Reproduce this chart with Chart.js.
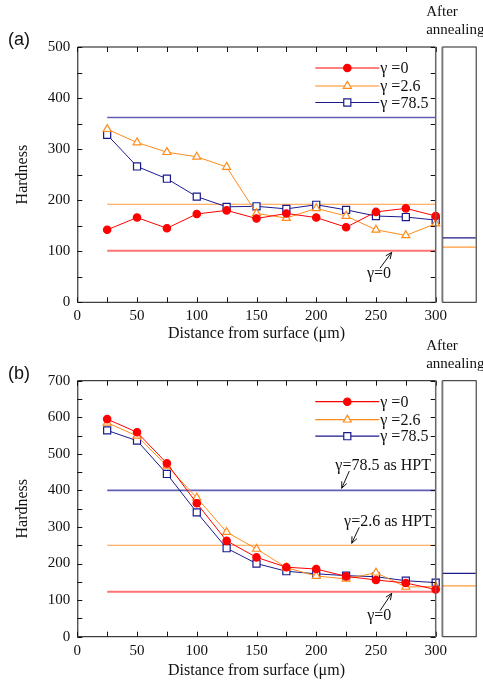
<!DOCTYPE html>
<html>
<head>
<meta charset="utf-8">
<script src="https://cdn.jsdelivr.net/npm/chart.js@4.4.1/dist/chart.umd.min.js"></script>
<style>
html, body { margin: 0; padding: 0; background: #fff; }
#wrap { position: relative; width: 483px; height: 684px; }
canvas { position: absolute; left: 0; }
</style>
</head>
<body>
<div id="wrap">
  <canvas id="chartA" width="483" height="342" style="top:0"></canvas>
  <canvas id="chartB" width="483" height="354" style="top:330px"></canvas>
</div>
<script>
// distance from surface (um)
const distance = [25, 50, 75, 100, 125, 150, 175, 200, 225, 250, 275, 300];
const seriesLabels = ['\u03b3 =0', '\u03b3 =2.6', '\u03b3 =78.5'];

// panel (a)
const hardA_g0   = [142, 166, 145, 173, 180, 164, 174, 166, 147, 177, 184, 169];
const hardA_g26  = [339, 313, 294, 285, 265, 174, 165, 184, 169, 142, 131, 154];
const hardA_g785 = [328, 266, 242, 207, 187, 188, 183, 191, 181, 169, 167, 161];
const refA  = [101, 192, 362];     // as-HPT levels (g0, g2.6, g78.5)
const sideA = [null, 108, 126];    // after annealing

// panel (b)
const hardB_g0   = [595, 559, 474, 365, 262, 217, 190, 185, 165, 155, 147, 129];
const hardB_g26  = [585, 549, 467, 380, 286, 240, 189, 166, 158, 175, 136, 137];
const hardB_g785 = [564, 536, 445, 340, 242, 200, 179, 172, 167, 164, 153, 148];
const refB  = [123, 250, 400];
const sideB = [null, 139, 173];

const serif = '"Liberation Serif", "Times New Roman", serif';
const colors = ['#ff0000', '#ff8c1a', '#1a1a8c'];
const refColors = ['#ff7373', '#ff9a3c', '#5f5fb4'];
const sideColors = ['#ff7373', '#ff9a3c', '#1a1a8c'];
const refWidths = [2, 1.2, 1.6];
const styles = [
    { pointStyle: 'circle', radius: 3.7, fill: '#ff0000' },
    { pointStyle: 'triangle', radius: 4.6, fill: '#ffffff' },
    { pointStyle: 'rect', radius: 5, fill: '#ffffff' }
];

function makeDatasets(series, refs) {
    const sets = series.map((vals, i) => ({
        label: seriesLabels[i],
        data: vals.map((v, k) => ({ x: distance[k], y: v })),
        borderColor: colors[i],
        backgroundColor: styles[i].fill,
        borderWidth: 1,
        pointStyle: styles[i].pointStyle,
        pointRadius: styles[i].radius,
        pointBorderWidth: 1.2,
        pointBorderColor: colors[i],
        pointBackgroundColor: styles[i].fill,
        tension: 0,
        clip: false
    }));
    refs.forEach((v, i) => {
        sets.push({
            label: 'ref' + i,
            data: [{ x: distance[0], y: v }, { x: distance[distance.length - 1], y: v }],
            borderColor: refColors[i],
            borderWidth: refWidths[i],
            pointRadius: 0,
            clip: false
        });
    });
    return sets;
}

// tick values of a scale, every stepSize between min and max
function tickValues(scale) {
    const step = scale.options.ticks.stepSize;
    const out = [];
    for (let v = scale.min; v <= scale.max + 1e-9; v += step) out.push(v);
    return out;
}

// frame, inward ticks, legend, side box and notes
const decor = {
    id: 'decor',
    afterDraw(chart, args, opts) {
        const { ctx, chartArea: ca, scales: { x, y } } = chart;
        ctx.save();
        ctx.strokeStyle = '#111';
        ctx.lineWidth = 1;
        tickValues(x).forEach(v => {
            const px = Math.round(x.getPixelForValue(v)) + 0.5;
            ctx.beginPath();
            ctx.moveTo(px, ca.bottom); ctx.lineTo(px, ca.bottom - 5);
            ctx.moveTo(px, ca.top); ctx.lineTo(px, ca.top + 5);
            ctx.stroke();
        });
        tickValues(y).forEach(v => {
            const py = Math.round(y.getPixelForValue(v)) + 0.5;
            ctx.beginPath();
            ctx.moveTo(ca.left, py); ctx.lineTo(ca.left + 5, py);
            ctx.moveTo(ca.right, py); ctx.lineTo(ca.right - 5, py);
            ctx.stroke();
        });
        ctx.beginPath();
        ctx.moveTo(ca.right, ca.top); ctx.lineTo(ca.left + 0.5, ca.top);
        ctx.lineTo(ca.left + 0.5, ca.bottom); ctx.lineTo(ca.right, ca.bottom);
        ctx.stroke();
        ctx.strokeStyle = '#666';
        ctx.lineWidth = 1.5;
        ctx.beginPath();
        ctx.moveTo(ca.right, ca.top); ctx.lineTo(ca.right, ca.bottom);
        ctx.stroke();

        // after annealing box
        const bx0 = ca.right + 6.5, bx1 = ca.right + 40;
        opts.side.forEach((v, i) => {
            if (v == null) return;
            const py = y.getPixelForValue(v);
            ctx.strokeStyle = sideColors[i];
            ctx.lineWidth = 1.2;
            ctx.beginPath(); ctx.moveTo(bx0, py); ctx.lineTo(bx1, py); ctx.stroke();
        });
        ctx.strokeStyle = '#222';
        ctx.lineWidth = 1;
        ctx.strokeRect(bx0 + 0.5, ca.top, bx1 - bx0, ca.height);
        ctx.strokeStyle = '#777';
        ctx.lineWidth = 1.5;
        ctx.beginPath(); ctx.moveTo(bx0, ca.top); ctx.lineTo(bx0, ca.bottom); ctx.stroke();

        ctx.fillStyle = '#111';
        ctx.font = '15px ' + serif;
        ctx.textAlign = 'left';
        ctx.textBaseline = 'middle';
        ctx.fillText('After', bx0 - 16, ca.top - 35);
        ctx.fillText('annealing', bx0 - 16, ca.top - 17);

        // panel label
        ctx.font = '18px "Liberation Sans", Arial, sans-serif';
        ctx.fillText(opts.panel, 8, ca.top - 7);

        // legend
        const rows = [21, 39, 55.5];
        const lx0 = ca.left + 238, lx1 = ca.left + 302, mx = ca.left + 270;
        ctx.font = '16px ' + serif;
        rows.forEach((dy, i) => {
            const py = ca.top + dy;
            ctx.strokeStyle = colors[i];
            ctx.lineWidth = 1.2;
            ctx.beginPath(); ctx.moveTo(lx0, py); ctx.lineTo(lx1, py); ctx.stroke();
            ctx.fillStyle = styles[i].fill;
            Chart.helpers.drawPoint(ctx, { pointStyle: styles[i].pointStyle, radius: styles[i].radius, borderWidth: 1.2, rotation: 0 }, mx, py);
            ctx.fillStyle = '#111';
            ctx.fillText(seriesLabels[i], lx1 + 1, py + 1);
        });

        // notes with arrows
        ctx.strokeStyle = '#111';
        ctx.lineWidth = 1;
        opts.notes.forEach(n => {
            ctx.fillStyle = '#111';
            ctx.textAlign = 'center';
            ctx.fillText(n.text, x.getPixelForValue(n.tx), y.getPixelForValue(n.ty));
            const x0 = x.getPixelForValue(n.from[0]), y0 = y.getPixelForValue(n.from[1]);
            const x1 = x.getPixelForValue(n.to[0]), y1 = y.getPixelForValue(n.to[1]);
            ctx.beginPath(); ctx.moveTo(x0, y0); ctx.lineTo(x1, y1); ctx.stroke();
            const a = Math.atan2(y1 - y0, x1 - x0);
            ctx.beginPath();
            ctx.moveTo(x1 - 7 * Math.cos(a - 0.4), y1 - 7 * Math.sin(a - 0.4));
            ctx.lineTo(x1, y1);
            ctx.lineTo(x1 - 7 * Math.cos(a + 0.4), y1 - 7 * Math.sin(a + 0.4));
            ctx.stroke();
        });
        ctx.restore();
    }
};

function buildChart(id, series, refs, yMax, geo, extra) {
    return new Chart(document.getElementById(id).getContext('2d'), {
        type: 'line',
        data: { datasets: makeDatasets(series, refs) },
        plugins: [decor],
        options: {
            responsive: false,
            animation: false,
            layout: { padding: { top: geo.top, right: 47.3, bottom: 0, left: 0 } },
            scales: {
                x: {
                    type: 'linear', min: 0, max: 300,
                    afterFit: s => { s.height = geo.xh; },
                    grid: { display: false, drawTicks: false },
                    border: { display: false },
                    ticks: {
                        stepSize: 25, autoSkip: false, maxRotation: 0, padding: 5,
                        color: '#111', font: { family: serif, size: 15 },
                        callback: v => (v % 50 === 0 ? v : '')
                    },
                    title: {
                        display: true, text: 'Distance from surface (\u03bcm)', color: '#111',
                        font: { family: serif, size: 16, lineHeight: geo.tlh },
                        padding: { top: 0, bottom: geo.tpad }
                    }
                },
                y: {
                    min: 0, max: yMax,
                    afterFit: s => { s.width = 77.3; },
                    grid: { display: false, drawTicks: false },
                    border: { display: false },
                    ticks: {
                        stepSize: 50, padding: 7, color: '#111',
                        font: { family: serif, size: 15 },
                        callback: v => (v % 100 === 0 ? v : '')
                    },
                    title: {
                        display: true, text: 'Hardness', color: '#111',
                        font: { family: serif, size: 16 },
                        padding: { top: 13, bottom: 0 }
                    }
                }
            },
            plugins: {
                legend: { display: false },
                tooltip: { enabled: false },
                decor: extra
            }
        }
    });
}

buildChart('chartA', [hardA_g0, hardA_g26, hardA_g785], refA, 500,
    { top: 47, xh: 39.7, tlh: 1, tpad: 0 },
    {
        panel: '(a)', side: sideA,
        notes: [
            { text: '\u03b3=0', tx: 252.5, ty: 55, from: [253.3, 66.6], to: [263.2, 97.9] }
        ]
    });

buildChart('chartB', [hardB_g0, hardB_g26, hardB_g785], refB, 700,
    { top: 50.7, xh: 47.3, tlh: 1.2, tpad: 4 },
    {
        panel: '(b)', side: sideB,
        notes: [
            { text: '\u03b3=78.5 as HPT', tx: 256, ty: 467, from: [227.7, 453], to: [221.3, 405.8] },
            { text: '\u03b3=2.6 as HPT', tx: 260, ty: 314.5, from: [236, 299], to: [229.7, 255.4] },
            { text: '\u03b3=0', tx: 252.8, ty: 57.4, from: [253.4, 71], to: [263.2, 118.7] }
        ]
    });
</script>
</body>
</html>
